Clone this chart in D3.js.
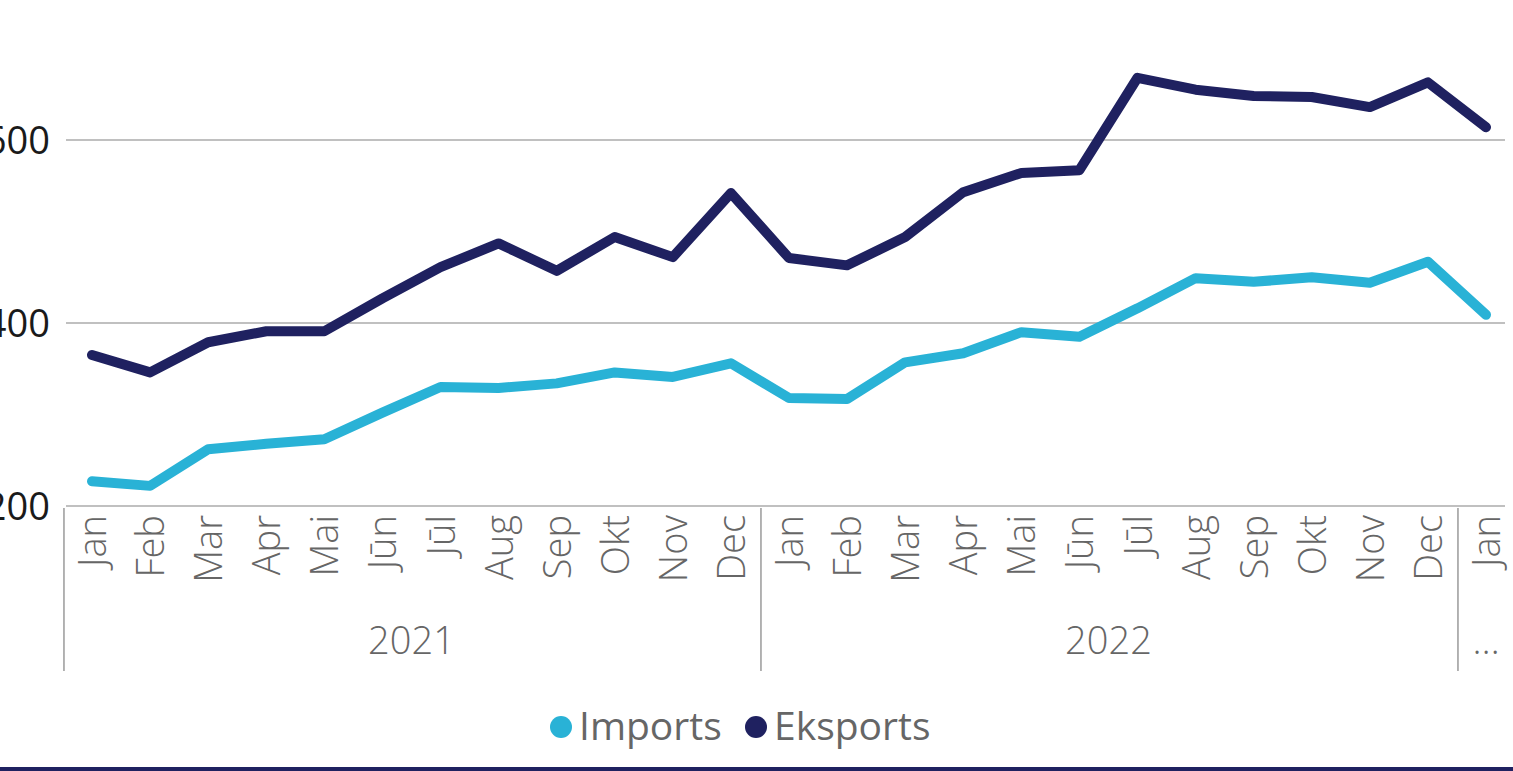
<!DOCTYPE html>
<html>
<head>
<meta charset="utf-8">
<script src="https://cdn.jsdelivr.net/npm/d3@7"></script>
<style>
  body { margin: 0; background: #fff; overflow: hidden; }
  text { font-family: "Open Sans", "Segoe UI", sans-serif; }
</style>
</head>
<body>
<div id="chart"></div>
<script>
const months = ['Jan', 'Feb', 'Mar', 'Apr', 'Mai', 'Jūn', 'Jūl', 'Aug', 'Sep', 'Okt', 'Nov', 'Dec',
  'Jan', 'Feb', 'Mar', 'Apr', 'Mai', 'Jūn', 'Jūl', 'Aug', 'Sep', 'Okt', 'Nov', 'Dec', 'Jan'];
const yearGroups = [
  { label: '2021', start: 0, end: 11 },
  { label: '2022', start: 12, end: 23 },
  { label: '…', start: 24, end: 24 },
];
const imports = [227, 222, 262, 268, 273, 302, 330, 329, 334, 346, 341, 356,
  318, 317, 357, 367, 390, 385, 416, 449, 445, 450, 444, 467, 409];
const exports = [365, 346, 379, 391, 391, 427, 461, 487, 457, 494, 472, 542,
  471, 463, 494, 543, 564, 567, 668, 655, 648, 647, 636, 663, 614];
const yTicks = [200, 400, 600];
const seriesNames = ['Imports', 'Eksports'];
const seriesColors = ['#29B2D6', '#1F2160'];

const width = 1513;
const height = 771;
const svg = d3.select('#chart').append('svg')
  .attr('width', width)
  .attr('height', height);

const x = d3.scalePoint()
  .domain(d3.range(months.length))
  .range([92, 1486]);
const step = x.step();

const y = d3.scaleLinear()
  .domain([200, 600])
  .range([506, 140]);

// gridlines
svg.append('g')
  .selectAll('line')
  .data(yTicks)
  .join('line')
  .attr('x1', 66)
  .attr('x2', 1505)
  .attr('y1', (d) => y(d))
  .attr('y2', (d) => y(d))
  .style('stroke', '#c0c0c0')
  .style('stroke-width', 2);

// y labels
svg.append('g')
  .selectAll('text')
  .data(yTicks)
  .join('text')
  .attr('x', 50)
  .attr('y', (d) => y(d) + 14)
  .attr('text-anchor', 'end')
  .style('font-size', '38px')
  .style('fill', '#1a1a1a')
  .text((d) => d);

// month labels
svg.append('g')
  .selectAll('text')
  .data(months)
  .join('text')
  .attr('transform', (d, i) => `translate(${x(i) + 14},515) rotate(-90)`)
  .attr('text-anchor', 'end')
  .style('font-size', '38px')
  .style('font-weight', 300)
  .style('fill', '#666666')
  .text((d) => d);

// group separators
const bounds = [0, 12, 24];
svg.append('g')
  .selectAll('line')
  .data(bounds)
  .join('line')
  .attr('x1', (d) => x(d) - step / 2 + 1)
  .attr('x2', (d) => x(d) - step / 2 + 1)
  .attr('y1', 508)
  .attr('y2', 671)
  .style('stroke', '#9a9a9a')
  .style('stroke-width', 1.5);

// year labels
svg.append('g')
  .selectAll('text')
  .data(yearGroups)
  .join('text')
  .attr('x', (d) => (x(d.start) + x(d.end)) / 2)
  .attr('y', 654)
  .attr('text-anchor', 'middle')
  .style('font-size', '38px')
  .style('font-weight', 300)
  .style('fill', '#666666')
  .text((d) => d.label);

// lines
const lineGen = d3.line()
  .x((d, i) => x(i))
  .y((d) => y(d));

svg.append('g')
  .selectAll('path')
  .data([imports, exports])
  .join('path')
  .attr('d', (d) => lineGen(d))
  .style('fill', 'none')
  .style('stroke', (d, i) => seriesColors[i])
  .style('stroke-width', 10)
  .style('stroke-linejoin', 'round')
  .style('stroke-linecap', 'round');

// legend
const legendX = [561, 756];
const legend = svg.append('g');
legend.selectAll('circle')
  .data(seriesNames)
  .join('circle')
  .attr('cx', (d, i) => legendX[i])
  .attr('cy', 727)
  .attr('r', 11)
  .style('fill', (d, i) => seriesColors[i]);
legend.selectAll('text')
  .data(seriesNames)
  .join('text')
  .attr('x', (d, i) => legendX[i] + 18)
  .attr('y', 740)
  .style('font-size', '39px')
  .style('fill', '#666666')
  .text((d) => d);

// bottom border
svg.append('rect')
  .attr('x', 0)
  .attr('y', 767)
  .attr('width', width)
  .attr('height', 4)
  .style('fill', '#1F2160');
</script>
</body>
</html>
